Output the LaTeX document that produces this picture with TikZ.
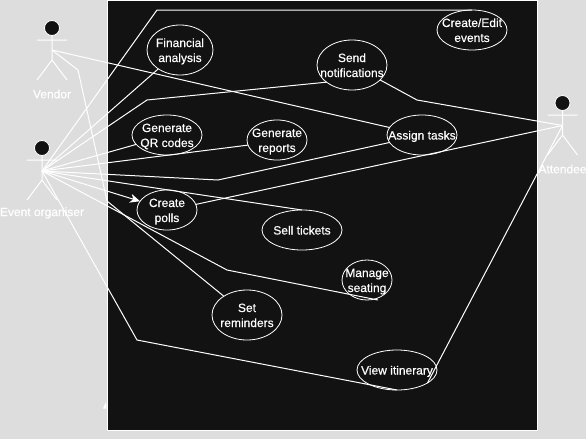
\documentclass[tikz,border=0pt]{standalone}
\usepackage{fontspec}
\setmainfont{Liberation Sans}[RawFeature={embolden=0.5}]
\usetikzlibrary{shapes.geometric,arrows.meta}
\definecolor{pagegrey}{HTML}{DDDDDD}
\definecolor{inkblack}{HTML}{121212}
\newcommand{\uctext}[1]{\makebox[0pt]{\raisebox{-4.5pt}[0pt][0pt]{\begin{tabular}{@{}c@{}}#1\end{tabular}}}}
\tikzset{
  usecase/.style={draw=white,line width=0.8pt,ellipse,inner sep=0pt,outer sep=0pt,text=white,
    font=\fontsize{12}{15}\selectfont},
  wire/.style={draw=white,line width=1pt},
  actorline/.style={draw=white,line width=1pt},
  actorhead/.style={circle,draw=white,fill=inkblack,line width=0.8pt,minimum size=15pt,inner sep=0pt},
  actorlabel/.style={text=white,font=\fontsize{12}{15}\selectfont,inner sep=0pt},
}
\begin{document}
\begin{tikzpicture}[x=1pt,y=-1pt]
\useasboundingbox (0,0) rectangle (586,439);
\fill[pagegrey] (0,0) rectangle (586,439);
\draw[draw=white,fill=inkblack,line width=0.9pt] (107.5,0.5) rectangle (537,430.5);
\fill[white] (103,408.5) -- (106,402) -- (106.5,408.5) -- cycle;

% use cases
\node[usecase,minimum width=66pt,minimum height=50pt] (fin) at (180,50) {\uctext{Financial\\analysis}};
\node[usecase,minimum width=70pt,minimum height=40pt] (edit) at (472,30) {\uctext{Create/Edit\\events}};
\node[usecase,minimum width=70pt,minimum height=50pt] (send) at (352,65) {\uctext{Send\\notifications}};
\node[usecase,minimum width=70pt,minimum height=40pt] (qr) at (167,135) {\uctext{Generate\\QR codes}};
\node[usecase,minimum width=60pt,minimum height=40pt] (rep) at (277,140) {\uctext{Generate\\reports}};
\node[usecase,minimum width=70pt,minimum height=40pt] (task) at (422,135) {\uctext{Assign tasks}};
\node[usecase,minimum width=60pt,minimum height=40pt] (poll) at (167,210) {\uctext{Create\\polls}};
\node[usecase,minimum width=80pt,minimum height=40pt] (sell) at (302,230) {\uctext{Sell tickets}};
\node[usecase,minimum width=50pt,minimum height=40pt] (seat) at (367,280) {\uctext{Manage\\seating}};
\node[usecase,minimum width=70pt,minimum height=50pt] (remind) at (247,315) {\uctext{Set\\reminders}};
\node[usecase,minimum width=80pt,minimum height=40pt] (view) at (397,370) {\uctext{View itinerary}};

% actors
\node[actorhead] (vhead) at (52,28) {};
\coordinate (vendor) at (52,50);
\coordinate (vfork) at (52,60);
\draw[actorline] (vhead) -- (vfork) -- (37,80) (vfork) -- (67,80) (37,40) -- (67,40);
\node[actorlabel] (vlabel) at (52,94) {Vendor};

\node[actorhead] (ohead) at (42,148) {};
\coordinate (org) at (42,171);
\coordinate (ofork) at (42,180);
\draw[actorline] (ohead) -- (ofork) -- (27,200) (ofork) -- (57,200) (27,160) -- (57,160);
\node[actorlabel] (olabel) at (42,213) {Event organiser};

\node[actorhead] (ahead) at (562.5,103) {};
\coordinate (att) at (562.5,125.5);
\coordinate (afork) at (562.5,135);
\draw[actorline] (ahead) -- (afork) -- (547.5,155) (afork) -- (577.5,155) (547.5,115) -- (577.5,115);
\node[actorlabel] (alabel) at (562.5,169) {Attendee};

% bend points
\coordinate (b1) at (157,10);
\coordinate (b2) at (147,100);
\coordinate (b3) at (218,180);
\coordinate (b4) at (227,270);
\coordinate (seatend) at (378,300);
\coordinate (b5) at (137,340);
\coordinate (b6) at (78,70);
\coordinate (b7) at (107,201);
\coordinate (b8) at (417,100);

% organiser
\draw[wire] (org) -- (b1) -- (edit.north);
\draw[wire] (org) -- (fin.221);
\draw[wire] (org) -- (b2) -- (send.214);
\draw[wire] (org) -- (qr.197);
\draw[wire] (org) -- (rep.190);
\draw[wire] (org) -- (b3) -- (task.193);
\draw[wire] (org) -- (sell.north);
\draw[wire,-{Stealth[length=10pt,width=9pt,inset=3pt]}] (org) -- (poll.162);
\draw[wire] (org) -- (b4) -- (seatend);
\draw[wire] (org) -- (b5) -- (view.south);

% vendor
\draw[wire] (vendor) -- (task.167);
\draw[wire] (vendor) -- (b6) -- (b7) -- (remind.141);

% attendee
\draw[wire] (att) -- (b8) -- (send.332);
\draw[wire] (att) -- (poll.11);
\draw[wire] (att) -- (view.337);
\end{tikzpicture}
\end{document}
